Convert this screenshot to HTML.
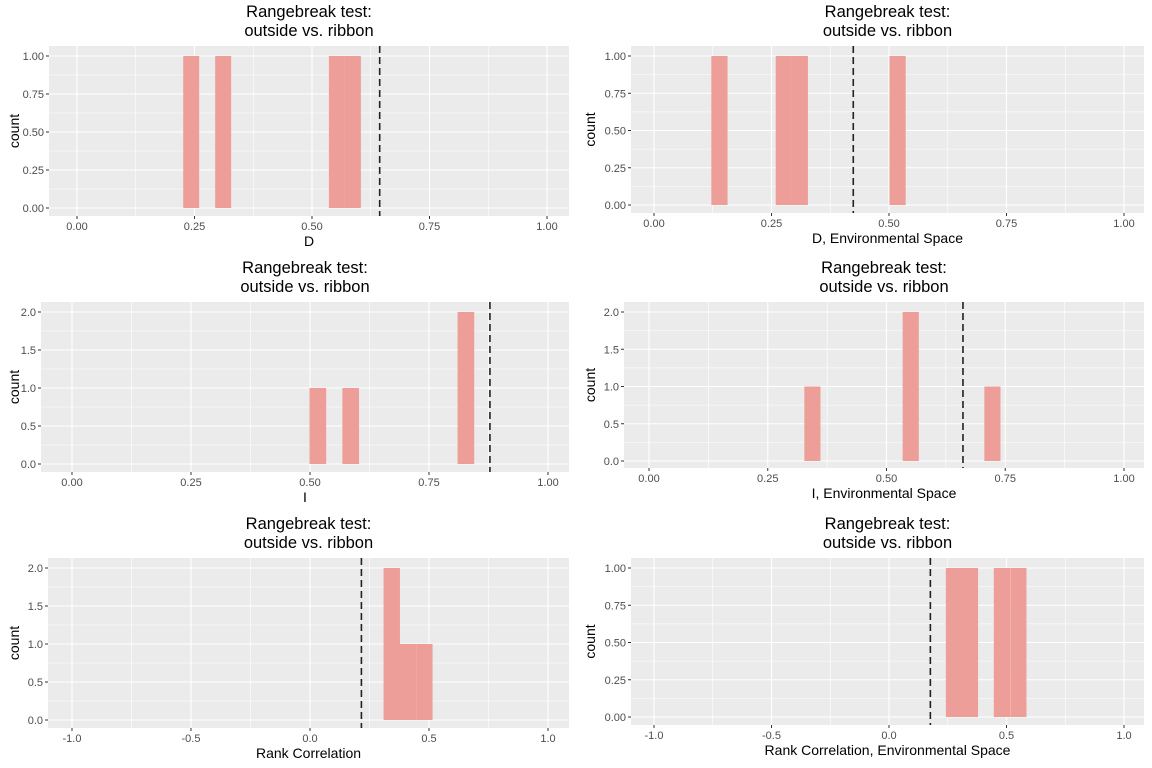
<!DOCTYPE html>
<html><head><meta charset="utf-8"><style>
html,body{margin:0;padding:0;background:#fff;}
svg{display:block;font-family:"Liberation Sans",Arial,sans-serif;}
</style></head><body>
<svg id="chart" width="1152" height="768" viewBox="0 0 1152 768"></svg>
<script>
// ---- data ----
const p1BinStarts = [0.226, 0.294, 0.536, 0.570];
const p1Counts = [1, 1, 1, 1];
const p1Stat = 0.644;
const p2BinStarts = [0.122, 0.259, 0.293, 0.501];
const p2Counts = [1, 1, 1, 1];
const p2Stat = 0.424;
const p3BinStarts = [0.499, 0.568, 0.810];
const p3Counts = [1, 1, 2];
const p3Stat = 0.878;
const p4BinStarts = [0.327, 0.534, 0.706];
const p4Counts = [1, 2, 1];
const p4Stat = 0.661;
const p5BinStarts = [0.309, 0.377, 0.446];
const p5Counts = [2, 1, 1];
const p5Stat = 0.216;
const p6BinStarts = [0.242, 0.310, 0.446, 0.516];
const p6Counts = [1, 1, 1, 1];
const p6Stat = 0.176;
const tickLabels01 = ["0.00","0.25","0.50","0.75","1.00"];
const tickLabelsRank = ["-1.0","-0.5","0.0","0.5","1.0"];
const yLabels1 = ["0.00","0.25","0.50","0.75","1.00"];
const yLabels2 = ["0.0","0.5","1.0","1.5","2.0"];
const xTitles = ["D","D, Environmental Space","I","I, Environmental Space","Rank Correlation","Rank Correlation, Environmental Space"];

const NS = "http://www.w3.org/2000/svg";
const svg = document.getElementById('chart');
function mk(tag, attrs, parent){
  const e = document.createElementNS(NS, tag);
  for (const k in attrs) e.setAttribute(k, attrs[k]);
  (parent||svg).appendChild(e);
  return e;
}

const panels = [
  {L:49,R:569,T:46,B:216,xa:0,xb:1,pa:77,pb:547,ya:208,yb:56,ymax:1,xt:tickLabels01,yt:yLabels1,bins:p1BinStarts,counts:p1Counts,bw:0.034,stat:p1Stat,title:xTitles[0]},
  {L:631,R:1144,T:46,B:213,xa:0,xb:1,pa:654,pb:1124,ya:205,yb:56,ymax:1,xt:tickLabels01,yt:yLabels1,bins:p2BinStarts,counts:p2Counts,bw:0.0345,stat:p2Stat,title:xTitles[1]},
  {L:41,R:569,T:302,B:472,xa:0,xb:1,pa:72,pb:548,ya:464,yb:312,ymax:2,xt:tickLabels01,yt:yLabels2,bins:p3BinStarts,counts:p3Counts,bw:0.035,stat:p3Stat,title:xTitles[2]},
  {L:624,R:1144,T:302,B:468,xa:0,xb:1,pa:649,pb:1124,ya:461,yb:312,ymax:2,xt:tickLabels01,yt:yLabels2,bins:p4BinStarts,counts:p4Counts,bw:0.034,stat:p4Stat,title:xTitles[3]},
  {L:48,R:569,T:558,B:728,xa:-1,xb:1,pa:72,pb:548,ya:720,yb:568,ymax:2,xt:tickLabelsRank,yt:yLabels2,bins:p5BinStarts,counts:p5Counts,bw:0.069,stat:p5Stat,title:xTitles[4]},
  {L:631,R:1144,T:558,B:725,xa:-1,xb:1,pa:654,pb:1124,ya:717,yb:568,ymax:1,xt:tickLabelsRank,yt:yLabels1,bins:p6BinStarts,counts:p6Counts,bw:0.069,stat:p6Stat,title:xTitles[5]}
];

panels.forEach((p, i) => {
  const g = mk('g', {});
  
  
  const xs = v => p.pa + (v - p.xa) / (p.xb - p.xa) * (p.pb - p.pa);
  const ys = v => p.ya + v / p.ymax * (p.yb - p.ya);
  const bg = mk('rect', {x:p.L, y:p.T, width:p.R-p.L, height:p.B-p.T, fill:'#EBEBEB'}, g);
  
  
  const n = p.xt.length;
  const xstep = (p.xb - p.xa) / (n - 1);
  for (let k = 0; k < n - 1; k++) {
    const xv = p.xa + (k + 0.5) * xstep;
    mk('line', {x1:xs(xv), x2:xs(xv), y1:p.T, y2:p.B, stroke:'#fff', 'stroke-width':0.6}, g);
    const yv = (k + 0.5) * p.ymax / (n - 1);
    mk('line', {x1:p.L, x2:p.R, y1:ys(yv), y2:ys(yv), stroke:'#fff', 'stroke-width':0.6}, g);
  }
  for (let k = 0; k < n; k++) {
    const xv = p.xa + k * xstep;
    const X = xs(xv);
    mk('line', {x1:X, x2:X, y1:p.T, y2:p.B, stroke:'#fff', 'stroke-width':1.1}, g);
    mk('line', {x1:X, x2:X, y1:p.B, y2:p.B+3, stroke:'#333', 'stroke-width':1}, g);
    const xl = mk('text', {x:X, y:p.B+14, 'text-anchor':'middle', 'font-size':11, fill:'#4D4D4D'}, g);
    xl.textContent = p.xt[k];
    
    
    const yv = k * p.ymax / (n - 1);
    const Y = ys(yv);
    mk('line', {x1:p.L, x2:p.R, y1:Y, y2:Y, stroke:'#fff', 'stroke-width':1.1}, g);
    mk('line', {x1:p.L-3, x2:p.L, y1:Y, y2:Y, stroke:'#333', 'stroke-width':1}, g);
    const yl = mk('text', {x:p.L-5, y:Y+4, 'text-anchor':'end', 'font-size':11, fill:'#4D4D4D'}, g);
    yl.textContent = p.yt[k];
    
    
  }
  p.bins.forEach((b, j) => {
    const x1 = xs(b), x2 = xs(b + p.bw);
    const r = mk('rect', {x:x1, y:ys(p.counts[j]), width:x2-x1, height:ys(0)-ys(p.counts[j]), fill:'#EE9E99'}, g);
    
    
  });
  const dl = mk('line', {x1:xs(p.stat), x2:xs(p.stat), y1:p.T, y2:p.B, stroke:'#222', 'stroke-width':1.6, 'stroke-dasharray':'7,4'}, g);
  
  
  const cx = (p.L + p.R) / 2;
  const t = mk('text', {x:cx, y:p.T-29, 'text-anchor':'middle', 'font-size':16.5, fill:'#000'}, g);
  t.textContent = 'Rangebreak test:';
  
  
  const t2 = mk('text', {x:cx, y:p.T-10, 'text-anchor':'middle', 'font-size':16.5, fill:'#000'}, g);
  t2.textContent = 'outside vs. ribbon';
  
  
  const xt = mk('text', {x:cx, y:p.B+30, 'text-anchor':'middle', 'font-size':14, fill:'#000'}, g);
  xt.textContent = p.title;
  
  
  const yc = (p.T + p.B) / 2;
  const yx = (i % 2 === 0) ? 19 : 595;
  const yt = mk('text', {x:yx, y:yc, 'text-anchor':'middle', 'font-size':14, fill:'#000', transform:'rotate(-90 '+yx+' '+yc+')'}, g);
  yt.textContent = 'count';
  
  
});
</script>
</body></html>
